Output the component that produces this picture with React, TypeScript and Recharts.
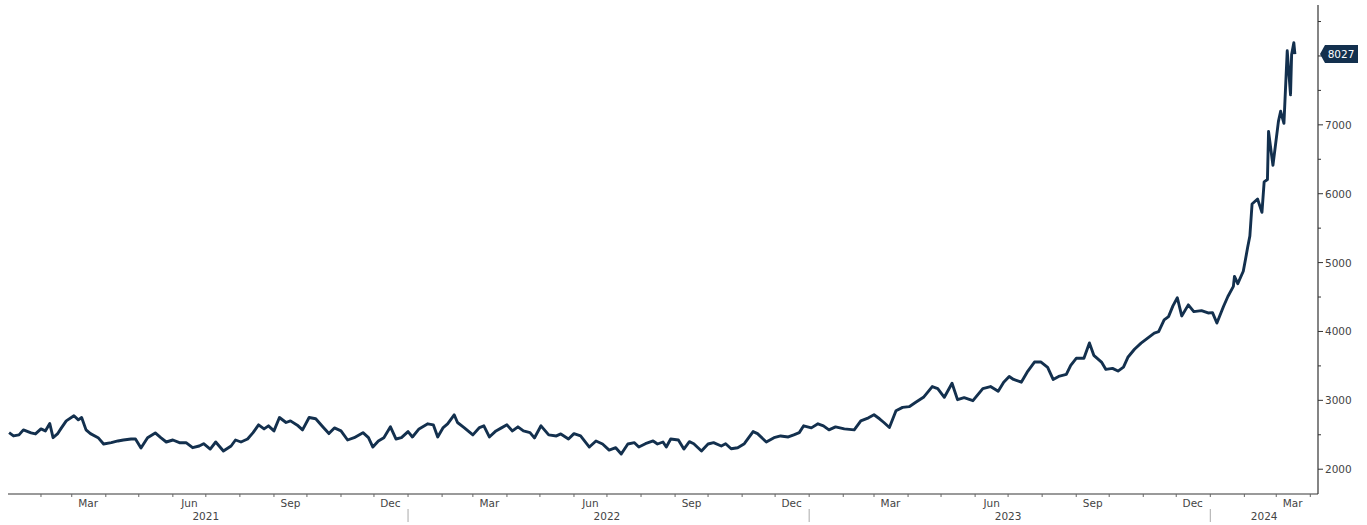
import { LineChart, Line, XAxis, YAxis } from 'recharts';

// day offsets from 2021-01-01, settlement price
const series2021: [number, number][] = [
  [2, 2531], [6, 2483], [11, 2498], [15, 2571], [22, 2527], [26, 2512], [31, 2585], [35, 2556],
  [39, 2663], [42, 2458], [46, 2512], [49, 2585], [54, 2702], [61, 2776], [65, 2717], [68, 2751],
  [72, 2571], [76, 2517], [83, 2458], [88, 2366], [95, 2385], [101, 2410], [106, 2424], [113, 2439],
  [117, 2439], [122, 2307], [128, 2458], [135, 2527], [140, 2458], [145, 2395], [151, 2424], [157, 2385],
  [163, 2385], [169, 2312], [175, 2337], [179, 2370], [185, 2293], [190, 2395], [197, 2264], [204, 2337],
  [208, 2424], [213, 2395], [219, 2439], [224, 2531], [229, 2644], [234, 2585], [238, 2630], [243, 2556],
  [248, 2751], [254, 2678], [258, 2702], [265, 2630], [269, 2571], [275, 2751], [281, 2732], [288, 2605],
  [293, 2517], [298, 2600], [304, 2556], [310, 2424], [316, 2458], [324, 2531], [329, 2458], [333, 2322],
  [338, 2410], [343, 2458], [349, 2615], [354, 2439], [359, 2458],
];

const series2022: [number, number][] = [
  [365, 2546], [369, 2468], [375, 2585], [383, 2659], [388, 2644], [392, 2468], [397, 2605], [401, 2659],
  [407, 2790], [410, 2678], [416, 2605], [424, 2498], [430, 2605], [434, 2630], [439, 2468], [445, 2556],
  [450, 2600], [455, 2644], [460, 2556], [465, 2615], [470, 2556], [476, 2531], [480, 2454], [486, 2630],
  [493, 2498], [500, 2483], [504, 2512], [511, 2439], [516, 2517], [522, 2483], [530, 2322], [536, 2410],
  [542, 2366], [548, 2278], [554, 2312], [559, 2220], [565, 2366], [571, 2385], [575, 2322], [581, 2370],
  [588, 2410], [592, 2366], [597, 2395], [600, 2322], [604, 2439], [611, 2424], [616, 2293], [621, 2400],
  [625, 2370], [632, 2264], [638, 2366], [643, 2385], [650, 2337], [654, 2370], [659, 2297], [665, 2312],
  [671, 2370], [679, 2546], [683, 2517], [691, 2395], [698, 2458], [704, 2483], [711, 2468], [716, 2498],
  [721, 2531], [725, 2630],
];

const series2023: [number, number][] = [
  [732, 2600], [738, 2659], [743, 2630], [748, 2571], [754, 2615], [762, 2585], [771, 2571], [777, 2702],
  [784, 2746], [789, 2790], [794, 2732], [798, 2678], [803, 2605], [809, 2849], [815, 2898], [821, 2908],
  [827, 2971], [834, 3044], [842, 3200], [847, 3171], [853, 3044], [860, 3249], [865, 3010], [871, 3039],
  [879, 2995], [888, 3171], [895, 3200], [902, 3132], [907, 3264], [912, 3347], [916, 3303], [923, 3264],
  [929, 3425], [935, 3556], [941, 3556], [947, 3479], [952, 3303], [957, 3347], [964, 3376], [968, 3508],
  [973, 3610], [980, 3610], [985, 3834], [989, 3654], [996, 3556], [1000, 3449], [1006, 3464], [1011, 3425],
  [1016, 3483], [1020, 3625], [1026, 3742], [1032, 3830], [1038, 3903], [1044, 3976], [1048, 3996], [1053, 4167],
  [1057, 4215], [1061, 4372], [1065, 4489], [1069, 4225], [1075, 4386], [1080, 4288], [1087, 4303], [1093, 4269],
];

const series2024: [number, number][] = [
  [1097, 4274], [1101, 4122], [1107, 4362], [1111, 4508], [1116, 4654], [1117, 4800], [1120, 4694], [1125, 4874],
  [1127, 5045], [1129, 5221], [1131, 5386], [1133, 5850], [1138, 5923], [1142, 5729], [1144, 6172], [1147, 6206],
  [1148, 6904], [1152, 6411], [1157, 7050], [1159, 7197], [1162, 7021], [1165, 8075], [1168, 7435], [1169, 8021],
  [1171, 8193], [1172, 8027],
];

const MONTHS = ['Jan', 'Feb', 'Mar', 'Apr', 'May', 'Jun', 'Jul', 'Aug', 'Sep', 'Oct', 'Nov', 'Dec'];
const LABELLED_MONTHS = [2, 5, 8, 11];
const YEARS = [2021, 2022, 2023, 2024];
const PRICE_TICKS = [2000, 2500, 3000, 3500, 4000, 4500, 5000, 5500, 6000, 6500, 7000, 7500, 8000, 8500];

const START = Date.UTC(2021, 0, 1);
const DAY_MS = 86400000;
const X_DOMAIN: [number, number] = [1, 1193];
const Y_DOMAIN: [number, number] = [1640, 8740];

const WIDTH = 1367;
const HEIGHT = 525;
const LEFT = 8;
const Y_AXIS_W = 49;
const PX_PER_DAY = (WIDTH - LEFT - Y_AXIS_W) / (X_DOMAIN[1] - X_DOMAIN[0]);

const FONT = '"DejaVu Sans", Verdana, sans-serif';
const LINE_COLOR = '#13304e';

const data = [...series2021, ...series2022, ...series2023, ...series2024].map(([day, price]) => ({ day, price }));
const lastPrice = data[data.length - 1].price;

const monthTicks: number[] = [];
YEARS.forEach((yr) => {
  for (let m = 0; m < 12; m++) {
    const d = (Date.UTC(yr, m, 1) - START) / DAY_MS;
    if (d >= X_DOMAIN[0] && d <= X_DOMAIN[1]) monthTicks.push(d);
  }
});

function MonthTick(props: any) {
  const { x, y, payload } = props;
  const d = payload.value;
  const date = new Date(START + d * DAY_MS);
  const m = date.getUTCMonth();
  const yr = date.getUTCFullYear();
  const lastYear = YEARS[YEARS.length - 1];
  return (
    <g>
      <line x1={x} x2={x} y1={y} y2={y + 3} stroke="#666" strokeWidth={1} />
      {LABELLED_MONTHS.includes(m) && (
        <text x={x + 15 * PX_PER_DAY} y={y + 13} textAnchor="middle" fontSize={10.5} fill="#444" fontFamily={FONT}>
          {MONTHS[m]}
        </text>
      )}
      {m === 0 && <line x1={x} x2={x} y1={y + 15} y2={y + 28} stroke="#aaa" strokeWidth={1} />}
      {m === 6 && yr !== lastYear && (
        <text x={x} y={y + 26} textAnchor="middle" fontSize={10.5} fill="#444" fontFamily={FONT}>
          {yr}
        </text>
      )}
      {m === 0 && yr === lastYear && (
        <text x={x + ((X_DOMAIN[1] - d) / 2) * PX_PER_DAY} y={y + 26} textAnchor="middle" fontSize={10.5} fill="#444" fontFamily={FONT}>
          {yr}
        </text>
      )}
    </g>
  );
}

function PriceTick(props: any) {
  const { x, y, payload } = props;
  const v = payload.value;
  if (v === lastPrice) {
    return (
      <g>
        <polygon
          points={`${x + 2},${y} ${x + 7},${y - 9} ${x + 40},${y - 9} ${x + 40},${y + 9} ${x + 7},${y + 9}`}
          fill={LINE_COLOR}
        />
        <text x={x + 23} y={y + 4} textAnchor="middle" fontSize={10.5} fill="#fff" fontFamily={FONT}>
          {v}
        </text>
      </g>
    );
  }
  const major = v % 1000 === 0;
  return (
    <g>
      <line x1={x} x2={x + (major ? 5 : 3)} y1={y} y2={y} stroke="#333" strokeWidth={1} />
      {major && (
        <text x={x + 7} y={y + 4} textAnchor="start" fontSize={10.5} fill="#444" fontFamily={FONT}>
          {v}
        </text>
      )}
    </g>
  );
}

export default function App() {
  return (
    <div style={{ position: 'absolute', left: 0, top: 0, background: '#fff' }}>
      <LineChart width={WIDTH} height={HEIGHT} data={data} margin={{ top: 5, right: 0, left: LEFT, bottom: 0 }}>
        <XAxis
          dataKey="day"
          type="number"
          domain={X_DOMAIN}
          allowDataOverflow
          ticks={monthTicks}
          interval={0}
          tick={<MonthTick />}
          tickLine={false}
          tickSize={0}
          tickMargin={0}
          height={31}
          axisLine={{ stroke: '#9a9a9a', strokeWidth: 2 }}
        />
        <YAxis
          orientation="right"
          type="number"
          domain={Y_DOMAIN}
          allowDataOverflow
          ticks={[...PRICE_TICKS, lastPrice]}
          interval={0}
          tick={<PriceTick />}
          tickLine={false}
          tickSize={0}
          tickMargin={0}
          width={Y_AXIS_W}
          axisLine={{ stroke: '#333', strokeWidth: 1.2 }}
        />
        <Line
          type="linear"
          dataKey="price"
          stroke={LINE_COLOR}
          strokeWidth={2.9}
          dot={false}
          isAnimationActive={false}
          strokeLinejoin="round"
        />
      </LineChart>
    </div>
  );
}
